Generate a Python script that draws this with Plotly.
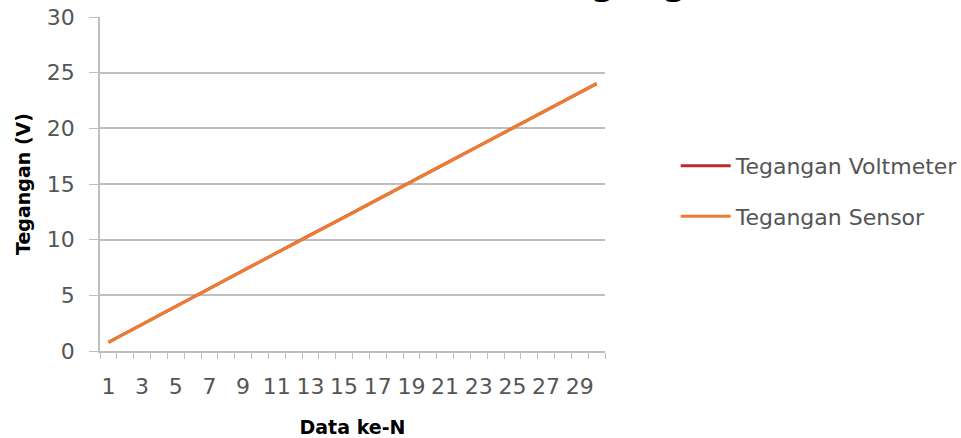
import plotly.graph_objects as go

# Calibration readings, one per sample index
data_index = list(range(1, 31))
tegangan_voltmeter = [0.79, 1.60, 2.41, 3.20, 4.01, 4.82, 5.60, 6.41, 7.21, 8.02,
                      8.81, 9.62, 10.43, 11.21, 12.02, 12.81, 13.62, 14.41, 15.22, 16.01,
                      16.81, 17.62, 18.41, 19.22, 20.02, 20.81, 21.62, 22.41, 23.22, 24.02]
tegangan_sensor = [0.78, 1.59, 2.40, 3.21, 4.00, 4.80, 5.62, 6.40, 7.22, 8.01,
                   8.82, 9.60, 10.40, 11.22, 12.01, 12.82, 13.61, 14.42, 15.20, 16.02,
                   16.82, 17.61, 18.42, 19.21, 20.01, 20.82, 21.61, 22.42, 23.21, 24.01]
x_tick_labels = [str(v) for v in range(1, 31, 2)]
y_ticks = [0, 5, 10, 15, 20, 25, 30]

FONT = "DejaVu Sans"
TEXT = "#555555"
GRID = "#BFBFBF"

fig = go.Figure()
fig.add_trace(go.Scatter(x=data_index, y=tegangan_voltmeter, mode="lines",
                         name="Tegangan Voltmeter", legendgroup="a",
                         line=dict(color="#C0272D", width=3)))
fig.add_trace(go.Scatter(x=data_index, y=tegangan_sensor, mode="lines",
                         name="Tegangan Sensor", legendgroup="b",
                         line=dict(color="#EE7D32", width=3)))

fig.add_annotation(text="<b>Kalibrasi Sensor Tegangan</b>", xref="paper", yref="paper",
                   x=0.752, xanchor="center", y=1.0, yanchor="bottom", yshift=12,
                   showarrow=False,
                   font=dict(family=FONT, size=34, color="#000000"))

fig.update_layout(
    width=961, height=438,
    margin=dict(l=100, r=356, t=17, b=87, autoexpand=False),
    paper_bgcolor="white", plot_bgcolor="white",
    font=dict(family=FONT, color=TEXT, size=22),
    showlegend=True,
    legend=dict(x=1.14, y=0.478, xanchor="left", yanchor="middle",
                traceorder="grouped", tracegroupgap=19,
                font=dict(family=FONT, size=22, color=TEXT),
                itemwidth=50),
    xaxis=dict(range=[0.5, 30.5], tickmode="array", automargin=False,
               tickvals=list(range(1, 31, 2)), ticktext=x_tick_labels,
               ticks="outside", ticklen=0, ticklabelstandoff=15,
               showgrid=False, showline=True, linecolor=GRID, linewidth=1.5,
               zeroline=False,
               minor=dict(tickmode="array", tickvals=[v + 0.5 for v in range(0, 31)],
                          ticks="outside", ticklen=6, tickcolor=GRID, showgrid=False),
               title=dict(text="<b>Data ke-N</b>", standoff=24,
                          font=dict(family=FONT, size=19, color="#000000")),
               tickfont=dict(family=FONT, size=22, color=TEXT)),
    yaxis=dict(range=[0, 30], tickmode="array", tickvals=y_ticks, automargin=False,
               ticks="outside", ticklen=9, tickcolor=GRID, ticklabelstandoff=10,
               showgrid=True, gridcolor=GRID, gridwidth=1.5,
               showline=True, linecolor=GRID, linewidth=1.5, zeroline=False,
               title=dict(text="<b>Tegangan (V)</b>", standoff=11,
                          font=dict(family=FONT, size=19, color="#000000")),
               tickfont=dict(family=FONT, size=22, color=TEXT)),
)

fig.write_html("out.html")
